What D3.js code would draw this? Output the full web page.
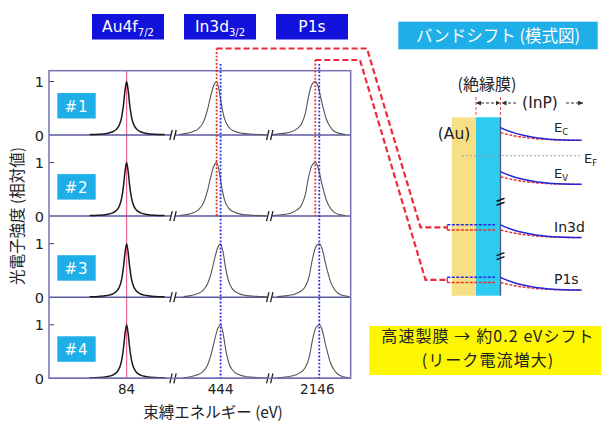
<!DOCTYPE html>
<html><head><meta charset="utf-8">
<script src="https://cdn.jsdelivr.net/npm/d3@7"></script>
<style>body{margin:0;background:#fff}svg{display:block}</style>
</head><body><svg id="c" width="601" height="421"></svg>
<script>
// ---- spectra data ----
const levelNames = ["Au4f", "In3d", "P1s"];
const levelSubs = ["7/2", "3/2", ""];
const tickValues = [84, 444, 2146];
const sampleNames = ["#1", "#2", "#3", "#4"];
// eV windows of the three broken x-axis segments
const segDomains = [[80.12, 86.22], [441.72, 446.37], [2143.61, 2147.57]];
// peak centres per sample (eV)
const auPeaks = [84.0, 84.0, 84.0, 84.0];
const inPeaks = [443.8, 443.8, 444.0, 444.0];
const pPeaks = [2145.8, 2145.8, 2146.0, 2146.0];
// line shapes: offset from centre (eV) and relative intensity
const auOffsets = [-1.85, -1.4, -1.0, -0.7, -0.5, -0.35, -0.25, -0.15, -0.08, 0, 0.08, 0.15, 0.25, 0.35, 0.5, 0.7, 1.0, 1.4, 1.9];
const auIntensity = [0.01, 0.015, 0.03, 0.06, 0.11, 0.2, 0.33, 0.58, 0.83, 1, 0.83, 0.58, 0.33, 0.2, 0.11, 0.06, 0.03, 0.015, 0.01];
const inOffsets = [-1.85, -1.5, -1.2, -0.9, -0.65, -0.45, -0.3, -0.15, 0, 0.12, 0.25, 0.4, 0.6, 0.9, 1.3, 1.8, 2.45];
const inIntensity = [0.01, 0.03, 0.06, 0.12, 0.25, 0.48, 0.72, 0.92, 1, 0.85, 0.55, 0.3, 0.15, 0.07, 0.03, 0.015, 0.005];
const pOffsets = [-2.1, -1.6, -1.2, -0.9, -0.7, -0.5, -0.35, -0.2, -0.1, 0, 0.1, 0.2, 0.3, 0.4, 0.55, 0.75, 0.95, 1.2, 1.5];
const pIntensity = [0.01, 0.03, 0.06, 0.12, 0.2, 0.4, 0.7, 0.92, 0.98, 1, 0.95, 0.82, 0.65, 0.5, 0.3, 0.15, 0.07, 0.03, 0.01];
// guide energies: slow-growth (blue) and fast-growth (red) positions
const guideSlow = [444.0, 2146.0];
const guideFast = [443.8, 2145.8];

// ---- band diagram data (energy below E_F, schematic units) ----
const bandNames = ["Ec", "Ev", "In3d", "P1s"];
const bandBulk = [-0.60, 1.12, 3.20, 5.25];
const bendSlow = 0.5;
const bendFast = 0.3;
const bendPos = [0, 0.08, 0.16, 0.28, 0.42, 0.6, 0.8, 1];
const bendFrac = [1, 0.78, 0.6, 0.4, 0.22, 0.09, 0.02, 0];
const bandBreaks = [1.8, 3.92];

const svg = d3.select("#c");
const JP = "'Noto Sans CJK JP', 'Noto Sans', sans-serif";
const LAT = "'DejaVu Sans', Verdana, sans-serif";

// ---- spectra layout ----
const L = 49, R = 350.7, T = 70.7, B = 378.3;
const segRanges = [[L, 171], [175, 268], [271.5, R]];
const xs = segDomains.map((d, i) => d3.scaleLinear().domain(d).range(segRanges[i]));
const basePos = d3.scalePoint().domain(sampleNames).range([135, B]);
const unitH = 53.5;
const yOf = s => d3.scaleLinear().domain([0, 1]).range([basePos(s), basePos(s) - unitH]);

const frameCol = "#7474b4";

// title boxes
const boxCx = [128, 220, 312];
levelNames.forEach((n, k) => {
  svg.append("rect").attr("x", boxCx[k] - 36).attr("y", 14).attr("width", 72).attr("height", 25.5)
    .attr("fill", "#1212dc");
  const t = svg.append("text").attr("x", boxCx[k]).attr("y", 32).attr("text-anchor", "middle")
    .attr("fill", "#fff").attr("font-family", LAT).attr("font-size", 15.5);
  t.append("tspan").text(n);
  if (levelSubs[k]) t.append("tspan").attr("font-size", 10).attr("dy", 4).text(levelSubs[k]);
});

// Au guide (behind spectra)
svg.append("line").attr("x1", xs[0](84)).attr("x2", xs[0](84)).attr("y1", T).attr("y2", B)
  .attr("stroke", "#f26a8a").attr("stroke-width", 1.2);

// panels: baselines, ticks, labels
sampleNames.forEach((s, i) => {
  const y = yOf(s);
  svg.append("line").attr("x1", L).attr("x2", R).attr("y1", y(0)).attr("y2", y(0))
    .attr("stroke", "#5a5aa2").attr("stroke-width", 1.5);
  svg.append("line").attr("x1", L).attr("x2", L + 5).attr("y1", y(1)).attr("y2", y(1))
    .attr("stroke", "#444").attr("stroke-width", 1);
  svg.append("text").attr("x", 44).attr("y", y(1) + 5).attr("text-anchor", "end")
    .attr("font-family", LAT).attr("font-size", 14.5).attr("fill", "#222").text("1");
  svg.append("text").attr("x", 44).attr("y", y(0) + 6).attr("text-anchor", "end")
    .attr("font-family", LAT).attr("font-size", 14.5).attr("fill", "#222").text("0");
  // sample tag
  svg.append("rect").attr("x", 57.3).attr("y", y(0) - 42).attr("width", 38.4).attr("height", 25.5)
    .attr("fill", "#1eaee8");
  svg.append("text").attr("x", 76.5).attr("y", y(0) - 23.5).attr("text-anchor", "middle")
    .attr("font-family", LAT).attr("font-size", 15).attr("fill", "#fff")
    .attr("letter-spacing", 1).text(s);
});

// spectra
const shapes = [[auOffsets, auIntensity, auPeaks], [inOffsets, inIntensity, inPeaks], [pOffsets, pIntensity, pPeaks]];
sampleNames.forEach((s, i) => {
  const y = yOf(s);
  shapes.forEach(([off, inten, peaks], k) => {
    const pts = off.map((o, j) => [peaks[i] + o, inten[j]]);
    const line = d3.line().x(d => xs[k](d[0])).y(d => y(d[1])).curve(d3.curveMonotoneX);
    svg.append("path").attr("d", line(pts)).attr("fill", "none")
      .attr("stroke", k === 0 ? "#1a1a1a" : "#555").attr("stroke-width", k === 0 ? 1.5 : 1.1);
  });
});

// axis breaks
const breakXs = [(segRanges[0][1] + segRanges[1][0]) / 2, (segRanges[1][1] + segRanges[2][0]) / 2];
sampleNames.forEach(s => {
  const y0 = yOf(s)(0);
  breakXs.forEach(bx => {
    svg.append("rect").attr("x", bx - 2).attr("y", y0 - 2).attr("width", 4).attr("height", 4).attr("fill", "#fff");
    [-2, 2].forEach(dx => svg.append("line")
      .attr("x1", bx + dx - 1.2).attr("y1", y0 + 5).attr("x2", bx + dx + 1.2).attr("y2", y0 - 5)
      .attr("stroke", "#222").attr("stroke-width", 1.3));
  });
});

// frame
svg.append("rect").attr("x", L).attr("y", T).attr("width", R - L).attr("height", B - T)
  .attr("fill", "none").attr("stroke", frameCol).attr("stroke-width", 1.5);

// guides for In and P
const fastBottom = basePos("#2");
const connTop = [48.5, 60];
guideSlow.forEach((e, k) => {
  const x = xs[k + 1](e);
  svg.append("line").attr("x1", x).attr("x2", x).attr("y1", 64).attr("y2", B)
    .attr("stroke", "#2a2ae6").attr("stroke-width", 1.8).attr("stroke-dasharray", "1.8,1.8");
});
guideFast.forEach((e, k) => {
  const x = xs[k + 1](e);
  svg.append("line").attr("x1", x).attr("x2", x).attr("y1", connTop[k]).attr("y2", fastBottom)
    .attr("stroke", "#ee2b2b").attr("stroke-width", 1.8).attr("stroke-dasharray", "1.8,1.8");
});

// axis labels
tickValues.forEach((v, k) => {
  svg.append("text").attr("x", xs[k](v) - (k === 2 ? 2 : 0)).attr("y", 394).attr("text-anchor", "middle")
    .attr("font-family", LAT).attr("font-size", 13.5).attr("fill", "#222").text(v);
});
svg.append("text").attr("x", 213).attr("y", 418).attr("text-anchor", "middle")
  .attr("font-family", JP).attr("font-size", 15.5).attr("fill", "#222").text("束縛エネルギー (eV)");
svg.append("text").attr("transform", "translate(23,216) rotate(-90)").attr("text-anchor", "middle")
  .attr("font-family", JP).attr("font-size", 15.5).attr("fill", "#222").text("光電子強度 (相対値)");

// ---- band diagram ----
const yE = d3.scaleLinear().domain([0, 1]).range([155.7, 181.3]);
const auX0 = 451.7, insX0 = 476, insX1 = 500.5, bulkX = 581.5;
const bandTop = 117.3, bandBot = 295.7;

svg.append("rect").attr("x", 398.3).attr("y", 21.7).attr("width", 199.4).attr("height", 27.6).attr("fill", "#1eaee8");
svg.append("text").attr("x", 498).attr("y", 41.5).attr("text-anchor", "middle").attr("font-family", JP)
  .attr("font-size", 16.5).attr("fill", "#fff").text("バンドシフト (模式図)");

svg.append("rect").attr("x", auX0).attr("y", bandTop).attr("width", insX0 - auX0).attr("height", bandBot - bandTop).attr("fill", "#f6df84");
svg.append("rect").attr("x", insX0).attr("y", bandTop).attr("width", insX1 - insX0).attr("height", bandBot - bandTop).attr("fill", "#2ccbef");
svg.append("line").attr("x1", insX1).attr("x2", insX1).attr("y1", bandTop).attr("y2", bandBot).attr("stroke", "#4a5a80").attr("stroke-width", 1.3);

// Fermi level
svg.append("line").attr("x1", 462).attr("x2", 582).attr("y1", yE(0)).attr("y2", yE(0))
  .attr("stroke", "#9a9a9a").attr("stroke-width", 0.9).attr("stroke-dasharray", "2,2");

const xBend = d3.scaleLinear().domain([0, 1]).range([insX1, bulkX]);
const bandLine = d3.line().x(d => xBend(d[0])).y(d => yE(d[1])).curve(d3.curveMonotoneX);
bandBulk.forEach((e, i) => {
  const fast = bendPos.map((p, j) => [p, e - bendFast * bendFrac[j]]);
  const slow = bendPos.map((p, j) => [p, e - bendSlow * bendFrac[j]]);
  svg.append("path").attr("d", bandLine(fast)).attr("fill", "none").attr("stroke", "#e83030")
    .attr("stroke-width", 1.4).attr("stroke-dasharray", "3,1.5");
  svg.append("path").attr("d", bandLine(slow)).attr("fill", "none").attr("stroke", "#2424d8").attr("stroke-width", 1.5);
});

// break marks on the energy axis
bandBreaks.forEach(e => {
  const y = yE(e);
  [-2, 2].forEach(dy => svg.append("line").attr("x1", insX1 - 4).attr("x2", insX1 + 4)
    .attr("y1", y + dy + 1.5).attr("y2", y + dy - 1.5).attr("stroke", "#111").attr("stroke-width", 1.4));
});

// core-level markers in the metal side, linked to the spectra
const coreIdx = [2, 3];
const connCorner = [[367, 420.5], [360, 425.5]];
coreIdx.forEach((bi, k) => {
  const yS = yE(bandBulk[bi] - bendSlow), yF = yE(bandBulk[bi] - bendFast);
  svg.append("line").attr("x1", 447.3).attr("x2", 495).attr("y1", yS).attr("y2", yS)
    .attr("stroke", "#2a2ae6").attr("stroke-width", 1.5).attr("stroke-dasharray", "3,1.5");
  svg.append("line").attr("x1", 447.3).attr("x2", 495).attr("y1", yF).attr("y2", yF)
    .attr("stroke", "#e83030").attr("stroke-width", 1.5).attr("stroke-dasharray", "3,1.5");
  svg.append("line").attr("x1", 447.3).attr("x2", 447.3).attr("y1", yS).attr("y2", yF)
    .attr("stroke", "#e83030").attr("stroke-width", 1.3);
  const yMid = (yS + yF) / 2;
  const x0 = xs[k + 1](guideFast[k]);
  const p = d3.path();
  p.moveTo(x0, connTop[k]); p.lineTo(connCorner[k][0], connTop[k]);
  p.lineTo(connCorner[k][1], yMid); p.lineTo(447.3, yMid);
  svg.append("path").attr("d", p.toString()).attr("fill", "none").attr("stroke", "#ee2b3a")
    .attr("stroke-width", 2.2).attr("stroke-dasharray", "6,3");
});

// band labels
function eLabel(x, y, main, sub) {
  const t = svg.append("text").attr("x", x).attr("y", y).attr("font-family", LAT).attr("font-size", 13).attr("fill", "#222");
  t.append("tspan").text(main);
  if (sub) t.append("tspan").attr("font-size", 8.5).attr("dy", 3).text(sub);
}
eLabel(554, yE(bandBulk[0]) - 8, "E", "C");
eLabel(554, yE(bandBulk[1]) - 6, "E", "V");
eLabel(584, yE(0) + 7, "E", "F");
svg.append("text").attr("x", 554).attr("y", yE(bandBulk[2]) - 6).attr("font-family", LAT).attr("font-size", 14).attr("fill", "#222").text("In3d");
svg.append("text").attr("x", 554).attr("y", yE(bandBulk[3]) - 6).attr("font-family", LAT).attr("font-size", 14).attr("fill", "#222").text("P1s");

svg.append("text").attr("x", 454).attr("y", 139).attr("text-anchor", "middle").attr("font-family", LAT)
  .attr("font-size", 15.5).attr("fill", "#222").text("(Au)");
svg.append("text").attr("x", 487).attr("y", 90).attr("text-anchor", "middle").attr("font-family", JP)
  .attr("font-size", 16).attr("fill", "#222").text("(絶縁膜)");
svg.append("text").attr("x", 540).attr("y", 108).attr("text-anchor", "middle").attr("font-family", LAT)
  .attr("font-size", 15.5).attr("fill", "#222").text("(InP)");

// thickness arrows
const defs = svg.append("defs");
defs.append("marker").attr("id", "ah").attr("viewBox", "0 0 6 6").attr("refX", 6).attr("refY", 3)
  .attr("markerWidth", 5).attr("markerHeight", 5).attr("orient", "auto-start-reverse")
  .append("path").attr("d", "M0,0L6,3L0,6Z").attr("fill", "#333");
const arrowY = 103;
svg.append("line").attr("x1", insX0).attr("x2", insX1).attr("y1", arrowY).attr("y2", arrowY)
  .attr("stroke", "#333").attr("stroke-width", 1).attr("stroke-dasharray", "3,2")
  .attr("marker-start", "url(#ah)").attr("marker-end", "url(#ah)");
svg.append("line").attr("x1", 516).attr("x2", insX1 + 1).attr("y1", arrowY).attr("y2", arrowY)
  .attr("stroke", "#333").attr("stroke-width", 1).attr("stroke-dasharray", "3,2").attr("marker-end", "url(#ah)");
svg.append("line").attr("x1", 566).attr("x2", 583).attr("y1", arrowY).attr("y2", arrowY)
  .attr("stroke", "#333").attr("stroke-width", 1).attr("stroke-dasharray", "3,2").attr("marker-end", "url(#ah)");
[insX0, insX1].forEach(x => svg.append("line").attr("x1", x).attr("x2", x).attr("y1", 97).attr("y2", 116)
  .attr("stroke", "#d85050").attr("stroke-width", 1).attr("stroke-dasharray", "3,2"));

// summary note
svg.append("rect").attr("x", 369.3).attr("y", 326).attr("width", 232).attr("height", 49).attr("fill", "#fcf600");
svg.append("text").attr("x", 488).attr("y", 342).attr("text-anchor", "middle").attr("font-family", JP)
  .attr("font-size", 16).attr("letter-spacing", 1.1).attr("fill", "#222").text("高速製膜 → 約0.2 eVシフト");
svg.append("text").attr("x", 488).attr("y", 365.5).attr("text-anchor", "middle").attr("font-family", JP)
  .attr("font-size", 16).attr("letter-spacing", 1.1).attr("fill", "#222").text("(リーク電流増大)");
</script></body></html>
